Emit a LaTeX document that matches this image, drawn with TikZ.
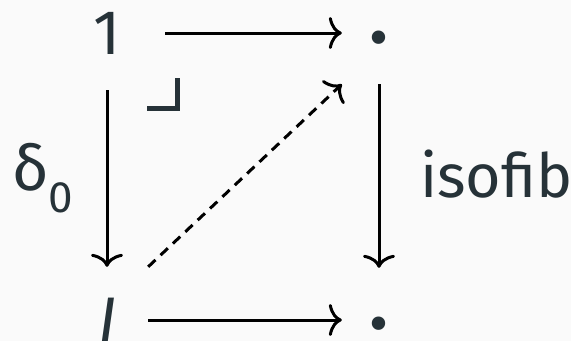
\documentclass[tikz,border=0pt]{standalone}
\usepackage{fontspec}
\setmainfont{Fira Sans}
\usetikzlibrary{arrows.meta}
\definecolor{ink}{HTML}{263238}
\definecolor{bg}{HTML}{FAFAFA}
\newcommand{\bigdot}{\raisebox{-30pt}[0pt][0pt]{\fontsize{96}{100}\selectfont ·}}
\tikzset{
  obj/.style={inner sep=0pt, text=ink, font=\fontsize{63}{70}\selectfont},
  arr/.style={line width=3pt, black, -{To[length=13pt,width=32pt]}},
  dasharr/.style={arr, dash pattern=on 10pt off 7pt},
  lbl/.style={inner sep=0pt, text=ink, font=\fontsize{61}{70}\selectfont, anchor=base west},
}
\begin{document}
\begin{tikzpicture}[x=1pt,y=-1pt]
\fill[bg] (0,0) rectangle (571,341);
\useasboundingbox (0,0) rectangle (571,341);
\node[obj, minimum width=116pt, minimum height=114pt] (A) at (107,33) {1};
\node[obj, minimum width=74pt, minimum height=94pt] (B) at (379,37) {\bigdot};
\node[obj, minimum width=80pt, minimum height=106pt] (C) at (108,320) {\itshape I};
\node[obj, minimum width=74pt, minimum height=110pt] (D) at (379,323) {\bigdot};
\draw[arr] (A.east) -- (A.east -| B.west);
\draw[arr] (C.east) -- (C.east -| D.west);
\draw[arr] (A.south) -- (A.south |- C.north);
\draw[arr] (B.south) -- (B.south |- D.north);
\draw[dasharr] (C.north east) -- (B.south west);
\draw[ink, line width=5pt, line join=miter] (147,108.5) -- (177.5,108.5) -- (177.5,78);
\node[lbl, font=\fontsize{63}{70}\selectfont] (d0) at (12,190) {δ\raisebox{-22pt}{\fontsize{44}{50}\selectfont 0}};
\node[lbl] (iso) at (420,197) {isofib};
\end{tikzpicture}
\end{document}
